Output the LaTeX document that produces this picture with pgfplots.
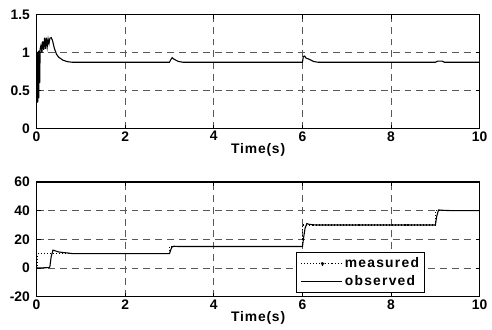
\documentclass[border=0pt]{standalone}
\usepackage{fontspec}
\setmainfont{Liberation Sans}
\newfontfamily\spaced[LetterSpace=6]{Liberation Sans}
\newfontfamily\legspaced[LetterSpace=9]{Liberation Sans}
\usepackage{pgfplots}
\pgfplotsset{compat=1.18}
\begin{document}
\fontsize{14}{16}\selectfont\bfseries
\begin{tikzpicture}
\pgfplotsset{
  every axis/.append style={
    scale only axis, width=448pt,
    xmin=0, xmax=10, xtick={0,2,4,6,8,10},
    grid=major,
    major grid style={black!65, dash pattern=on 7pt off 5pt, line width=0.8pt},
    axis line style={line width=1.1pt},
    tick style={black, line width=0.8pt},
    tick align=inside,
    major tick length=4pt,
    /pgf/number format/assume math mode=true,
    tick label style={font=\fontsize{14}{16}\selectfont\bfseries},
    label style={font=\fontsize{14}{16}\selectfont\spaced\bfseries},
    xlabel={Time(s)},
    xlabel style={yshift=7pt},
    xticklabel style={yshift=2pt},
    yticklabel style={xshift=-2pt},
  }
}
\begin{axis}[name=top, at={(0,0)}, height=115pt,
  ymin=0, ymax=1.5, ytick={0,0.5,1,1.5},
  yticklabel style={/pgf/number format/fixed}]
\addplot[black, line width=1.1pt] coordinates {
(0.00,0.35)(0.015,0.35)(0.02,1.0)(0.03,0.35)(0.04,1.02)(0.05,0.40)(0.06,1.03)(0.07,0.6)(0.08,1.05)
(0.10,1.10)(0.12,1.00)(0.14,1.15)(0.16,1.04)(0.18,1.20)(0.20,1.05)(0.22,1.20)(0.24,1.08)
(0.26,1.18)(0.28,1.12)(0.30,1.19)(0.33,1.20)(0.36,1.16)(0.40,1.06)(0.45,0.98)(0.50,0.94)
(0.60,0.90)(0.70,0.882)(0.80,0.875)(3.00,0.875)(3.03,0.91)(3.06,0.935)(3.10,0.915)(3.20,0.885)
(3.30,0.875)(6.00,0.875)(6.02,0.95)(6.05,0.956)(6.08,0.93)(6.15,0.915)(6.25,0.885)(6.35,0.875)
(9.00,0.875)(9.05,0.89)(9.15,0.89)(9.20,0.875)(10.0,0.875)};
\end{axis}
\begin{axis}[name=bot, at={(0,-170pt)}, height=116pt,
  ymin=-20, ymax=60, ytick={-20,0,20,40,60},
  legend style={at={(0.585,0.03)}, anchor=south west, draw=black, line width=1pt,
    font=\fontsize{14}{16}\selectfont\legspaced\bfseries, inner xsep=4pt, inner ysep=3pt, row sep=2pt,
    cells={anchor=west}},
  legend cell align=left]
\addplot[black, dotted, line width=1.1pt,
  legend image code/.code={
    \draw[black, dotted, line width=1.1pt] (0pt,0pt) -- (42pt,0pt);
    \fill[black] (22pt,0pt) circle (1.6pt);}] coordinates {
(0,0)(0.02,0)(0.02,10)(3.0,10)(3.0,15)(6.0,15)(6.0,30)(9.0,30)(9.0,40)(10,40)};
\addlegendentry{measured}
\addplot[black, line width=1.1pt,
  legend image code/.code={
    \draw[black, line width=1.1pt] (0pt,0pt) -- (42pt,0pt);}] coordinates {
(0,0)(0.28,0.3)(0.30,1)(0.33,8)(0.37,12.5)(0.42,12.0)(0.50,11.2)(0.60,10.8)(0.70,10.5)(0.80,10.1)
(3.00,10.1)(3.02,12)(3.05,14.5)(3.10,15.2)(3.20,15)(6.00,15)(6.03,22)(6.06,28)(6.10,31)
(6.15,30.5)(6.30,30)(9.00,30)(9.03,36)(9.07,40.5)(9.20,40.2)(9.40,40)(10,40)};
\addlegendentry{observed}
\end{axis}
\path (top.north west) ++(-37pt,15pt);
\end{tikzpicture}
\end{document}
